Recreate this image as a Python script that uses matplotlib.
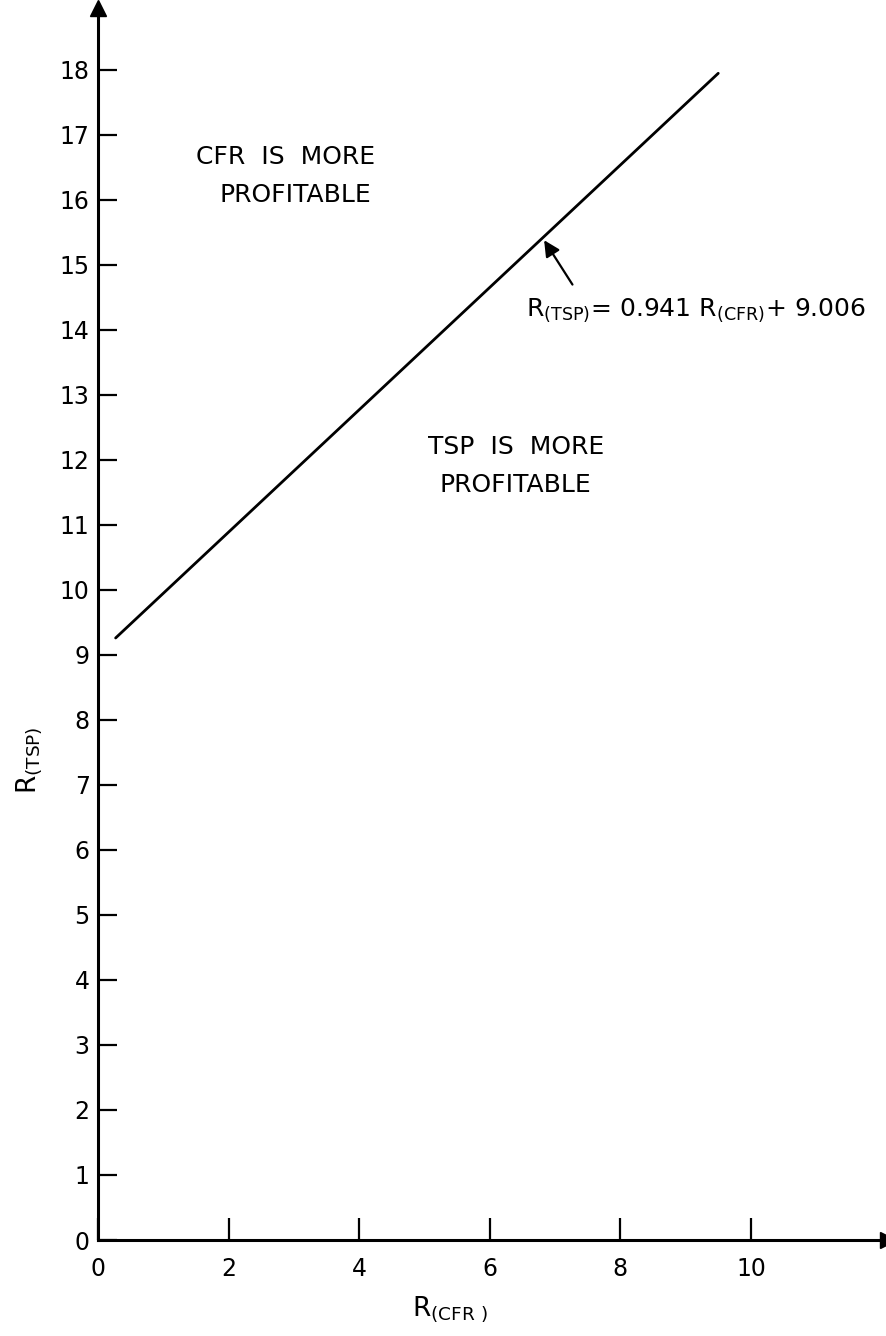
import matplotlib
matplotlib.use("Agg")
import matplotlib.pyplot as plt
import numpy as np

# Break-even line between the two processes
slope = 0.941
intercept = 9.006
x_range = [0.27, 9.5]

x_ticks = [0, 2, 4, 6, 8, 10]
y_ticks = list(range(0, 19))

region_upper = ["CFR  IS  MORE", "PROFITABLE"]
region_lower = ["TSP  IS  MORE", "PROFITABLE"]

plt.rcParams["font.family"] = ["DejaVu Sans"]
plt.rcParams["mathtext.fontset"] = "dejavusans"

fig = plt.figure(figsize=(8.87, 13.36), dpi=100)
ax = fig.add_axes([98 / 887, 96 / 1336, 790 / 887, 1232 / 1336])
ax.set_xlim(0, 12.1)
ax.set_ylim(0, 18.95)

for s in ["top", "right"]:
    ax.spines[s].set_visible(False)
for s in ["left", "bottom"]:
    ax.spines[s].set_linewidth(2.2)
    ax.spines[s].set_color("black")

# arrow heads on the axes
ax.plot(1, 0, marker=">", color="black", markersize=11,
        transform=ax.get_yaxis_transform(), clip_on=False)
ax.plot(0, 1, marker="^", color="black", markersize=11,
        transform=ax.get_xaxis_transform(), clip_on=False)

ax.set_xticks(x_ticks)
ax.set_yticks(y_ticks)
ax.tick_params(axis="x", direction="in", length=16, width=1.6,
               labelsize=17, pad=12)
ax.tick_params(axis="y", direction="in", length=14, width=1.6,
               labelsize=17, pad=6)

# break-even line
xs = np.array(x_range)
ys = slope * xs + intercept
ax.plot(xs, ys, color="black", linewidth=2.0, solid_capstyle="round")

# region labels
ax.text(2.87, 16.66, region_upper[0], fontsize=18, ha="center", va="center")
ax.text(3.03, 16.08, region_upper[1], fontsize=18, ha="center", va="center")
ax.text(6.4, 12.2, region_lower[0], fontsize=18, ha="center", va="center")
ax.text(6.4, 11.62, region_lower[1], fontsize=18, ha="center", va="center")

# equation with pointer to the line
x_pt = 6.81
ax.annotate("", xy=(x_pt, slope * x_pt + intercept), xytext=(7.29, 14.66),
            arrowprops=dict(arrowstyle="-|>", color="black", lw=1.6,
                            mutation_scale=24))
ax.text(6.55, 14.3,
        r"$\mathrm{R}_{(\mathrm{TSP})}$= 0.941 $\mathrm{R}_{(\mathrm{CFR})}$+ 9.006",
        fontsize=18, ha="left", va="center")

# axis titles
ax.set_xlabel(r"$\mathrm{R}_{(\mathrm{CFR}\ )}$", fontsize=19)
ax.set_ylabel(r"$\mathrm{R}_{(\mathrm{TSP})}$", fontsize=19)
ax.xaxis.set_label_coords((450 - 98) / 790, -54 / 1232)
ax.yaxis.set_label_coords(-54 / 790, (1336 - 96 - 760) / 1232)

fig.savefig("out.png", dpi=100, facecolor="white")
